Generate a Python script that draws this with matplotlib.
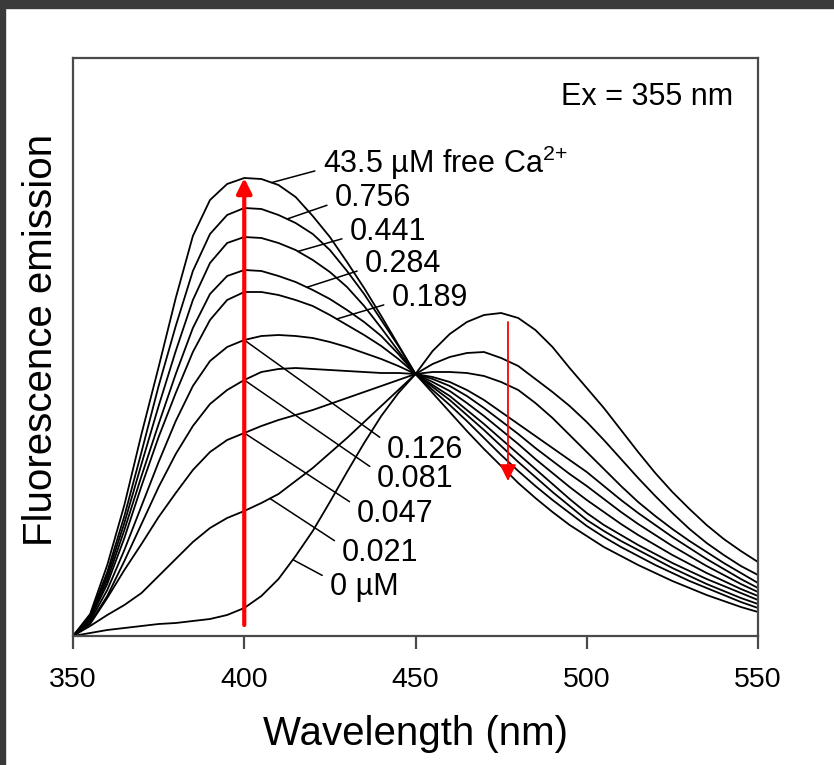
import numpy as np
import matplotlib
matplotlib.use('Agg')
import matplotlib.pyplot as plt
from matplotlib.patches import Rectangle

plt.rcParams['font.family'] = ['Liberation Sans', 'DejaVu Sans']
plt.rcParams['mathtext.fontset'] = 'custom'
plt.rcParams['mathtext.rm'] = 'Liberation Sans'
plt.rcParams['mathtext.it'] = 'Liberation Sans:italic'
plt.rcParams['mathtext.bf'] = 'Liberation Sans:bold'

# emission spectra (arbitrary units, ex = 355 nm)
wavelength = [350, 355, 360, 365, 370, 375, 380, 385, 390, 395,
              400, 405, 410, 415, 420, 425, 430, 435, 440, 445,
              450, 455, 460, 465, 470, 475, 480, 485, 490, 495,
              500, 505, 510, 515, 520, 525, 530, 535, 540, 545, 550]

ca_43_5 = [0, 22, 71, 131, 202, 269, 338, 400, 436, 452,
           458, 457, 451, 439, 420, 399, 374, 348, 320, 291,
           262, 243, 224, 205, 187, 170, 153, 138, 124, 111,
           100, 89, 80, 71, 63, 55, 48, 41, 35, 29, 24]
ca_0_756 = [0, 20, 64, 120, 184, 250, 310, 365, 402, 421,
            428, 427, 421, 413, 402, 386, 365, 342, 316, 290,
            262, 246, 231, 215, 198, 181, 165, 150, 136, 123,
            110, 99, 89, 80, 71, 63, 55, 48, 41, 34, 28]
ca_0_441 = [0, 19, 60, 113, 172, 230, 285, 336, 373, 393,
            399, 398, 393, 386, 376, 364, 349, 330, 308, 285,
            262, 249, 236, 221, 206, 190, 174, 159, 144, 130,
            116, 105, 95, 86, 77, 68, 60, 52, 45, 38, 32]
ca_0_284 = [0, 18, 56, 106, 160, 212, 262, 308, 342, 360,
            366, 365, 360, 354, 346, 337, 326, 314, 300, 282,
            262, 251, 240, 226, 212, 197, 182, 167, 152, 137,
            123, 111, 101, 91, 82, 73, 65, 57, 50, 43, 36]
ca_0_189 = [0, 17, 52, 98, 150, 199, 243, 284, 316, 336,
            344, 344, 341, 336, 330, 321, 311, 301, 290, 277,
            262, 254, 245, 233, 220, 206, 192, 177, 163, 149,
            136, 124, 112, 101, 91, 81, 72, 63, 55, 47, 40]
ca_0_126 = [0, 15, 46, 86, 130, 174, 215, 250, 275, 289,
            296, 300, 301, 300, 298, 294, 289, 283, 277, 270,
            262, 257, 250, 240, 228, 215, 202, 188, 175, 162,
            150, 137, 124, 112, 101, 90, 80, 70, 61, 52, 44]
ca_0_081 = [0, 13, 40, 75, 112, 149, 182, 210, 232, 246,
            256, 264, 267, 268, 267, 266, 265, 264, 263, 263,
            262, 259, 254, 246, 236, 224, 212, 200, 188, 176,
            164, 150, 136, 123, 111, 99, 88, 77, 67, 57, 48]
ca_0_047 = [0, 12, 38, 66, 92, 119, 143, 166, 184, 196,
            203, 210, 216, 221, 226, 232, 238, 244, 250, 256,
            262, 264, 264, 263, 260, 254, 246, 233, 218, 201,
            184, 167, 150, 134, 120, 107, 95, 84, 73, 63, 53]
ca_0_021 = [0, 10, 21, 31, 43, 60, 77, 94, 108, 118,
            125, 133, 142, 155, 168, 183, 198, 214, 230, 246,
            262, 272, 279, 283, 284, 278, 270, 257, 244, 230,
            214, 196, 177, 158, 140, 123, 107, 93, 81, 70, 61]
ca_0 = [0, 3, 6, 8, 10, 12, 13, 15, 17, 21,
        28, 40, 57, 80, 105, 134, 164, 193, 220, 243,
        262, 285, 302, 314, 321, 323, 318, 306, 289, 268,
        248, 228, 206, 184, 163, 144, 127, 111, 97, 85, 74]

curves = [ca_43_5, ca_0_756, ca_0_441, ca_0_284, ca_0_189,
          ca_0_126, ca_0_081, ca_0_047, ca_0_021, ca_0]
labels = ['43.5 \u00b5M free Ca$^{2{+}}$', '0.756', '0.441', '0.284', '0.189',
          '0.126', '0.081', '0.047', '0.021', '0 \u00b5M']

# where each leader line touches its curve (nm) and where the label sits (nm, height)
leader_nm = [408, 412.5, 415.7, 418.3, 427, 400, 400, 400, 407.5, 414.2]
label_pos = [(423.0, 473), (426.5, 438), (430.9, 404), (435.3, 372), (443.1, 338),
             (441.7, 186), (438.8, 157), (432.9, 122), (428.5, 83), (425.0, 49)]
label_relpos = [(0, 0.35)] * 5 + [(0, 0.75)] * 5

xticks = [350, 400, 450, 500, 550]

fig = plt.figure(figsize=(8.34, 7.65), dpi=100)
ax = fig.add_axes([73 / 834, 1 - 636 / 765, 685 / 834, 578 / 765])

for c in curves:
    ax.plot(wavelength, c, color='black', lw=1.3, solid_joinstyle='round')

for lab, nm, pos, rp, c in zip(labels, leader_nm, label_pos, label_relpos, curves):
    y0 = np.interp(nm, wavelength, c)
    ax.annotate(lab, xy=(nm, y0), xytext=pos, ha='left', va='center', fontsize=22,
                arrowprops=dict(arrowstyle='-', color='black', lw=1.1,
                                shrinkA=4, shrinkB=0, relpos=rp))

# red arrows: rise at 400 nm, fall at ~477 nm
ax.annotate('', xy=(400, ca_43_5[wavelength.index(400)]), xytext=(400, 11),
            arrowprops=dict(arrowstyle='-|>,head_length=0.9,head_width=0.45',
                            mutation_scale=10, color='#ff0000', lw=3,
                            shrinkA=0, shrinkB=0), zorder=5)
ax.annotate('', xy=(477, 155), xytext=(477, 314),
            arrowprops=dict(arrowstyle='-|>,head_length=1.0,head_width=0.5',
                            mutation_scale=10, color='#ff0000', lw=1.3,
                            shrinkA=0, shrinkB=0), zorder=5)

ax.text(0.9635, 0.933, 'Ex = 355 nm', transform=ax.transAxes, ha='right',
        va='center', fontsize=22)

ax.set_xlim(350, 550)
ax.set_ylim(0, 578)
ax.set_xticks(xticks)
ax.set_xticklabels([str(t) for t in xticks])
ax.set_yticks([])
ax.tick_params(axis='x', direction='out', length=9, width=1.6, color='#4a4a4a',
               labelsize=20.5, pad=13)
for s in ax.spines.values():
    s.set_color('#4a4a4a')
    s.set_linewidth(1.6)

ax.set_xlabel('Wavelength (nm)', fontsize=29, labelpad=16)
ax.set_ylabel('Fluorescence emission', fontsize=29)
ax.yaxis.set_label_coords(-0.019, 0.512)

# dark frame edge at the top and left of the original image
fig.patches.append(Rectangle((0, 1 - 8 / 765), 1, 8 / 765, transform=fig.transFigure,
                             color='#3a3a3a', zorder=0))
fig.patches.append(Rectangle((0, 0), 5 / 834, 1, transform=fig.transFigure,
                             color='#3a3a3a', zorder=0))

fig.savefig('out.png', dpi=100)
